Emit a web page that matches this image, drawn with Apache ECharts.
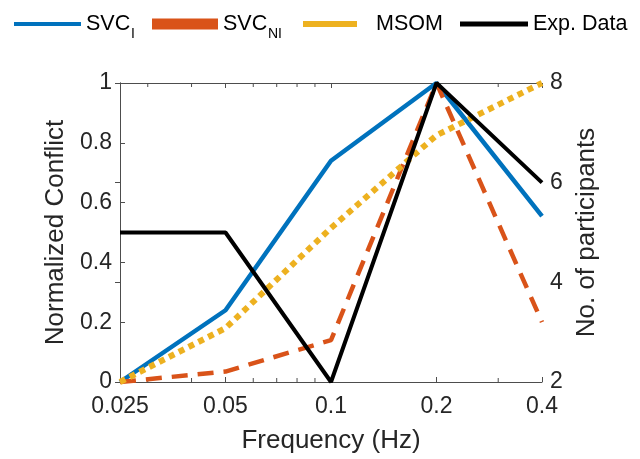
<!DOCTYPE html>
<html>
<head>
<meta charset="utf-8">
<script src="https://cdn.jsdelivr.net/npm/echarts@6/dist/echarts.min.js"></script>
<style>html,body{margin:0;padding:0;background:#fff;}#c{width:640px;height:459px;}</style>
</head>
<body>
<div id="c"></div>
<script>
const freqs = [0.025, 0.05, 0.1, 0.2, 0.4];
const freqLabels = ['0.025', '0.05', '0.1', '0.2', '0.4'];
const minorFreqs = [0.03, 0.04, 0.06, 0.07, 0.08, 0.09, 0.3];
const svcI = [0, 0.24, 0.74, 1.0, 0.555];
const svcNI = [0, 0.035, 0.14, 1.0, 0.2];
const msom = [0, 0.18, 0.515, 0.825, 1.0];
const expData = [5, 5, 2, 8, 6];
const leftTicks = [0, 0.2, 0.4, 0.6, 0.8, 1];
const rightTicks = [2, 4, 6, 8];

const F = 'Liberation Sans, Arial, Helvetica, sans-serif';
const AX = '#4d4d4d';
const TXT = '#262626';
// log2 frequency scale: position of a frequency along the axis
const pos = f => Math.log2(f / freqs[0]);
const pairs = arr => freqs.map((f, i) => [pos(f), arr[i]]);

const chart = echarts.init(document.getElementById('c'), null, {renderer: 'canvas'});

function legendFor(name, color, left, w, h, fmt) {
  return {
    left: left, top: 13, icon: 'rect', itemWidth: w, itemHeight: h, padding: 0,
    data: [{name: name, itemStyle: {color: color}}],
    formatter: fmt,
    selectedMode: false,
    textStyle: {
      fontFamily: F, color: '#000', fontSize: 21.5,
      rich: {
        p: {fontFamily: F, fontSize: 21.5, color: '#000', padding: [0, 0, 0, 14]},
        q: {fontFamily: F, fontSize: 21.5, color: '#000'}
      }
    }
  };
}

const option = {
  animation: false,
  backgroundColor: '#fff',
  legend: [
    legendFor('SVC_I', '#0072BD', 14, 67, 4, () => '{q|SVC}'),
    legendFor('SVC_NI', '#D95319', 152, 66, 11, () => '{q|SVC}'),
    legendFor('MSOM', '#EDB120', 303, 54, 6, () => '{p|MSOM}'),
    legendFor('Exp. Data', '#000000', 460, 68, 5, () => '{q|Exp. Data}')
  ],
  graphic: [
    {type: 'text', left: 131, top: 27, silent: true,
      style: {text: 'I', fontFamily: F, fontSize: 14, fill: '#000'}},
    {type: 'text', left: 268, top: 27, silent: true,
      style: {text: 'NI', fontFamily: F, fontSize: 14, fill: '#000'}}
  ],
  grid: {left: 120, right: 98, top: 83, bottom: 74, containLabel: false},
  xAxis: [
    {
      type: 'value', min: 0, max: 4, interval: 1, position: 'bottom',
      axisLine: {show: true, lineStyle: {color: AX, width: 1}},
      axisTick: {show: true, inside: true, length: 5, lineStyle: {color: AX}},
      axisLabel: {fontFamily: F, fontSize: 23, color: TXT, margin: 13,
        formatter: v => { const i = Math.round(v); return Math.abs(v - i) < 1e-9 && freqLabels[i] ? freqLabels[i] : ''; }},
      name: 'Frequency (Hz)', nameLocation: 'middle', nameGap: 46,
      nameTextStyle: {fontFamily: F, fontSize: 26, color: TXT},
      splitLine: {show: false}
    },
    {
      type: 'value', min: 0, max: 4, interval: 1, position: 'top',
      axisLine: {show: true, lineStyle: {color: AX, width: 1}},
      axisTick: {show: true, inside: true, length: 5, lineStyle: {color: AX}},
      axisLabel: {show: false},
      splitLine: {show: false}
    }
  ],
  yAxis: [
    {
      type: 'value', min: 0, max: 1, interval: 0.2, position: 'left',
      axisLine: {show: true, lineStyle: {color: AX, width: 1}},
      axisTick: {show: true, inside: true, length: 5, lineStyle: {color: AX}},
      axisLabel: {fontFamily: F, fontSize: 23, color: TXT, margin: 8,
        formatter: v => { const t = leftTicks.find(x => Math.abs(x - v) < 1e-9); return t === undefined ? '' : String(t); }},
      name: 'Normalized Conflict', nameLocation: 'middle', nameGap: 48, nameRotate: 90,
      nameTextStyle: {fontFamily: F, fontSize: 26, color: TXT},
      splitLine: {show: false}
    },
    {
      type: 'value', min: 2, max: 8, interval: 2, position: 'right',
      axisLine: {show: true, lineStyle: {color: AX, width: 1}},
      axisTick: {show: true, inside: true, length: 5, lineStyle: {color: AX}},
      axisLabel: {fontFamily: F, fontSize: 23, color: TXT, margin: 8,
        formatter: v => { const t = rightTicks.find(x => Math.abs(x - v) < 1e-9); return t === undefined ? '' : String(t); }},
      name: 'No. of participants', nameLocation: 'middle', nameGap: 30, nameRotate: 90,
      nameTextStyle: {fontFamily: F, fontSize: 26, color: TXT},
      splitLine: {show: false}
    }
  ],
  series: [
    {name: 'SVC_I', type: 'line', data: pairs(svcI), xAxisIndex: 0, yAxisIndex: 0, symbol: 'none', clip: false,
      color: '#0072BD', lineStyle: {color: '#0072BD', width: 4.5}},
    {name: 'SVC_NI', type: 'line', data: pairs(svcNI), xAxisIndex: 0, yAxisIndex: 0, symbol: 'none', clip: false,
      color: '#D95319', lineStyle: {color: '#D95319', width: 4.5, type: [16, 10]}},
    {name: 'MSOM', type: 'line', data: pairs(msom), xAxisIndex: 0, yAxisIndex: 0, symbol: 'none', clip: false,
      color: '#EDB120', lineStyle: {color: '#EDB120', width: 6, type: [6, 5]}},
    {name: 'Exp. Data', type: 'line', data: pairs(expData), xAxisIndex: 0, yAxisIndex: 1, symbol: 'none', clip: false,
      color: '#000000', lineStyle: {color: '#000000', width: 4}},
    {
      name: 'minorTicks', type: 'custom', xAxisIndex: 0, yAxisIndex: 0, silent: true, clip: false, z: 1,
      data: minorFreqs.map(f => [pos(f)]),
      renderItem: (params, api) => {
        const b = api.coord([api.value(0), 0]);
        const t = api.coord([api.value(0), 1]);
        const st = {stroke: AX, lineWidth: 1};
        return {type: 'group', children: [
          {type: 'line', shape: {x1: b[0], y1: b[1], x2: b[0], y2: b[1] - 4}, style: st},
          {type: 'line', shape: {x1: t[0], y1: t[1], x2: t[0], y2: t[1] + 4}, style: st}
        ]};
      }
    }
  ]
};
chart.setOption(option);
</script>
</body>
</html>
